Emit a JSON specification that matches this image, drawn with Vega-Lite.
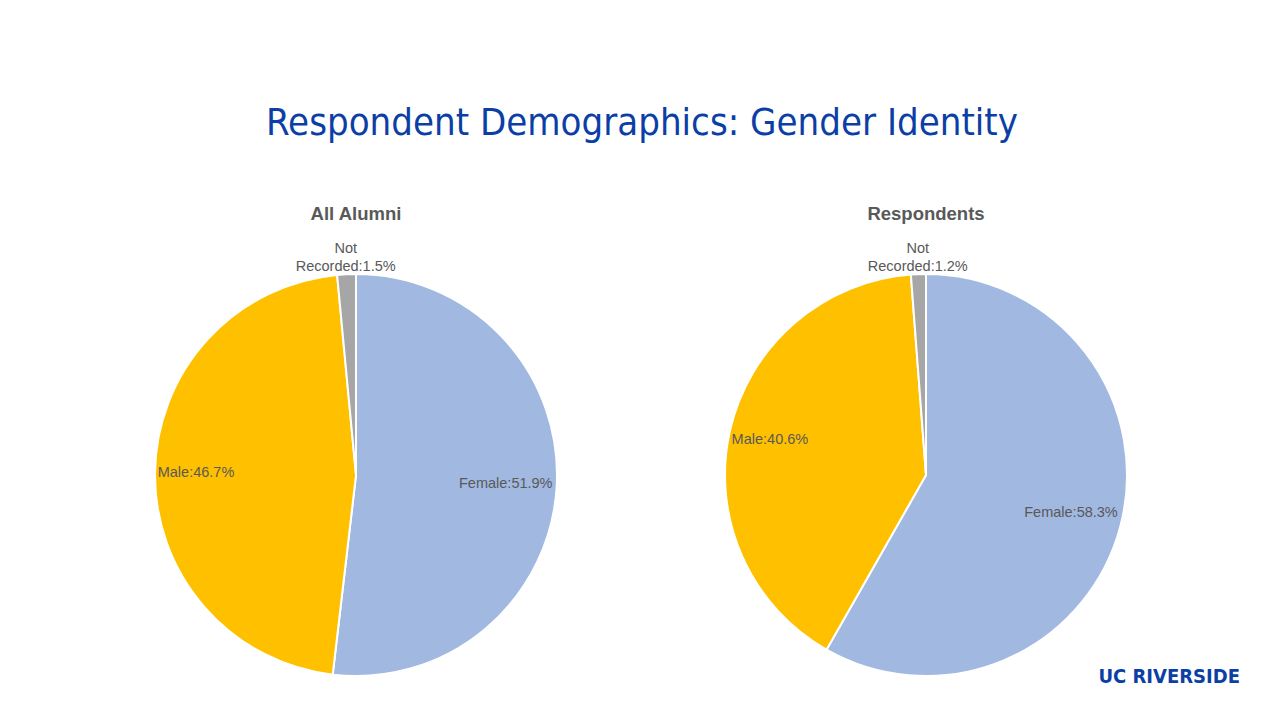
{
  "$schema": "https://vega.github.io/schema/vega-lite/v6.json",
  "background": "white",
  "padding": {"left": 136, "top": 104, "right": 10, "bottom": 5},
  "title": {
    "text": "Respondent Demographics: Gender Identity",
    "font": "DejaVu Sans Condensed, sans-serif",
    "fontSize": 38,
    "fontWeight": "normal",
    "color": "#0B3FA6",
    "anchor": "middle",
    "dx": -46,
    "offset": 62
  },
  "data": {
    "values": [
      {"group": "All Alumni", "category": "Female", "pct": 51.9, "order": 1, "label": "Female:51.9%"},
      {"group": "All Alumni", "category": "Male", "pct": 46.7, "order": 2, "label": "Male:46.7%"},
      {"group": "All Alumni", "category": "Not Recorded", "pct": 1.5, "order": 3, "label": "Not Recorded:1.5%"},
      {"group": "Respondents", "category": "Female", "pct": 58.3, "order": 1, "label": "Female:58.3%"},
      {"group": "Respondents", "category": "Male", "pct": 40.6, "order": 2, "label": "Male:40.6%"},
      {"group": "Respondents", "category": "Not Recorded", "pct": 1.2, "order": 3, "label": "Not Recorded:1.2%"}
    ]
  },
  "vconcat": [
    {
      "title": {
        "text": "UC RIVERSIDE",
        "orient": "bottom",
        "anchor": "end",
        "font": "DejaVu Sans Condensed, sans-serif",
        "fontWeight": "bold",
        "fontSize": 20,
        "color": "#0B3FA6",
        "dx": 94,
        "offset": -28
      },
      "facet": {
        "column": {
          "field": "group",
          "type": "nominal",
          "sort": ["All Alumni", "Respondents"],
          "title": null,
          "header": {
            "labelFont": "Liberation Sans, Arial, sans-serif",
            "labelFontSize": 18.5,
            "labelFontWeight": "bold",
            "labelColor": "#595959",
            "labelPadding": 18
          }
        }
      },
      "spacing": 130,
      "spec": {
        "width": 440,
        "height": 440,
        "encoding": {
          "theta": {"field": "pct", "type": "quantitative", "stack": true},
          "order": {"field": "order", "type": "quantitative"},
          "detail": {"field": "category", "type": "nominal"},
          "color": {
            "field": "category",
            "type": "nominal",
            "scale": {"domain": ["Female", "Male", "Not Recorded"], "range": ["#A1B8E1", "#FFC000", "#A6A6A6"]},
            "legend": null
          }
        },
        "layer": [
          {"mark": {"type": "arc", "outerRadius": 201, "stroke": "white", "strokeWidth": 2}},
          {
            "mark": {
              "type": "text",
              "font": "Liberation Sans, Arial, sans-serif",
              "fontSize": 14.5,
              "lineBreak": " ",
              "lineHeight": 18,
              "align": "center",
              "baseline": {"expr": "datum.category === 'Not Recorded' ? 'bottom' : 'middle'"},
              "radius": {"expr": "datum.category === 'Female' ? 150 : (datum.category === 'Male' ? 160 : 219)"}
            },
            "encoding": {
              "text": {"field": "label", "type": "nominal"},
              "color": {"value": "#595959"}
            }
          }
        ]
      }
    }
  ],
  "config": {"view": {"stroke": null}}
}
